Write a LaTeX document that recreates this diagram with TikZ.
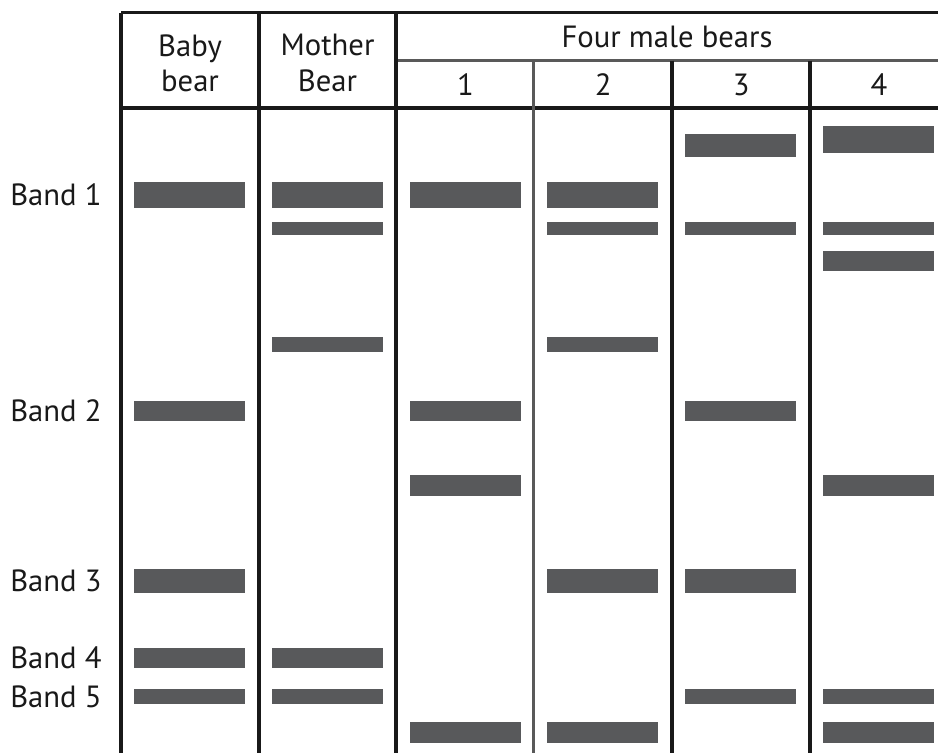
\documentclass[tikz,border=0pt]{standalone}
\usepackage{fontspec}
\setmainfont{PT Sans}
\definecolor{bandgrey}{RGB}{88,89,91}
\begin{document}
\begin{tikzpicture}
		[x=0.75pt, y=-0.75pt,
		rule/.style= {line width=2.3pt, draw=black!90},
		thinrule/.style= {line width=1.6pt, draw=black!65},
		band/.style= {fill=bandgrey},
		lbl/.style= {font=\fontsize{23}{26.5}\selectfont, inner sep=0pt, text=black!90}]

		\useasboundingbox (0,0) rectangle (938,753);

		% table frame
		\draw[rule] (121,12.5) -- (938,12.5);
		\draw[thinrule] (396,60.5) -- (938,60.5);
		\draw[rule] (121,108) -- (938,108);

		\foreach \x in {121,259,396}
			\draw[rule] (\x,12.5) -- (\x,753);
		\foreach \x in {672,810}
			\draw[rule] (\x,60.5) -- (\x,753);
		\draw[thinrule] (533.5,60.5) -- (533.5,753);

		% header
		\node[lbl, align=center] (baby) at (190,63) {Baby\\bear};
		\node[lbl, align=center] (mother) at (327.5,63) {Mother\\Bear};
		\node[lbl] (males) at (667,37) {Four male bears};
		\foreach \i in {1,...,4}
			\node[lbl] (m\i) at ({327.7+137.8*\i},85) {\i};

		% band labels
		\node[lbl, anchor=west] (b1) at (10,195) {Band 1};
		\node[lbl, anchor=west] (b2) at (10,411) {Band 2};
		\node[lbl, anchor=west] (b3) at (10,581) {Band 3};
		\node[lbl, anchor=west] (b4) at (10,658) {Band 4};
		\node[lbl, anchor=west] (b5) at (10,696.5) {Band 5};

		% bands: column/top/bottom
		\foreach \c/\t/\b in {
			0/182/208, 0/401/421, 0/569/593, 0/648/668, 0/689/704,
			1/182/208, 1/222/235, 1/337/352, 1/648/668, 1/689/704,
			2/182/208, 2/401/421, 2/475/496, 2/722/743,
			3/182/208, 3/222/235, 3/337/352, 3/569/593, 3/722/743,
			4/134/157, 4/222/235, 4/401/421, 4/569/593, 4/689/704,
			5/126/153, 5/222/235, 5/251/271, 5/475/496, 5/689/704, 5/722/743}
			\fill[band] ({134+137.8*\c},\t) rectangle ({245+137.8*\c},\b);

	\end{tikzpicture}
\end{document}
